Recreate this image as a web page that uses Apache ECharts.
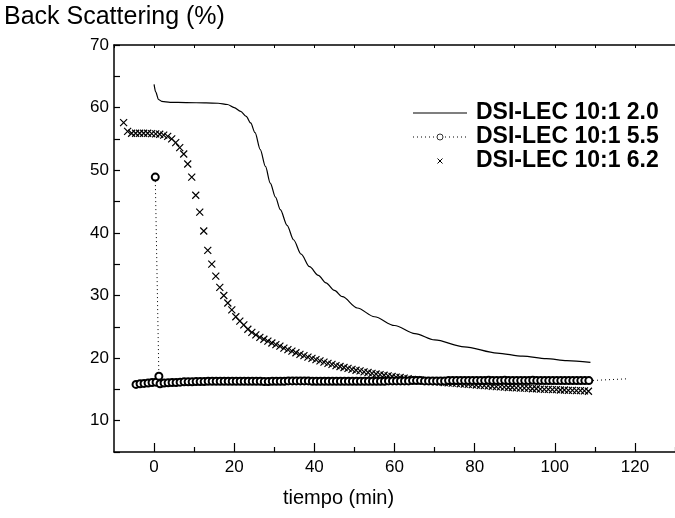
<!DOCTYPE html>
<html><head><meta charset="utf-8">
<script src="https://cdn.jsdelivr.net/npm/echarts@6/dist/echarts.min.js"></script>
<style>html,body{margin:0;padding:0;background:#fff}#c{width:675px;height:518px}</style>
</head><body><div id="c"></div>
<script>
// ---- data ----
const seriesNames = ['DSI-LEC 10:1 2.0', 'DSI-LEC 10:1 5.5', 'DSI-LEC 10:1 6.2'];
const xTickLabels = [0, 20, 40, 60, 80, 100, 120];
const xMinorTicks = [10, 30, 50, 70, 90, 110, 130];
const yTickLabels = [10, 20, 30, 40, 50, 60, 70];

// solid line (2.0)
const solidX = [0.0, 0.4, 1.1, 1.9, 4.0, 8.0, 13.0, 16.0, 18.3, 20.0, 21.6, 23.0, 24.1, 25.2, 26.5, 27.8, 29.0, 30.3, 31.5, 33.2, 34.8, 36.7, 38.8, 41.0, 42.9, 45.0, 47.0, 50.7, 55.0, 60.0, 65.1, 70.0, 77.4, 85.6, 92.0, 97.9, 103.0, 108.9];
const solidY = [63.7, 62.5, 61.3, 61.0, 60.85, 60.8, 60.75, 60.7, 60.5, 60.0, 59.4, 58.6, 57.55, 56.0, 53.3, 50.6, 47.95, 45.7, 43.7, 41.2, 38.9, 36.6, 34.6, 33.2, 32.0, 30.8, 29.8, 28.0, 26.6, 25.2, 23.9, 22.9, 21.8, 20.8, 20.3, 19.9, 19.6, 19.3];

// circles (5.5)
const circleEarlyX = [-4.5, -3.5, -2.5, -1.5, -0.5, 0.5];
const circleEarlyY = [15.8, 15.9, 15.95, 16.0, 16.1, 16.15];
const circleJumpX = [0.3, 1.2];
const circleJumpY = [48.9, 17.1];
const circleStartX = 1.5, circleStep = 1.0;
const circleY = [
  15.9, 16.0, 16.05, 16.1, 16.1, 16.15, 16.2, 16.2, 16.2, 16.25,
  16.25, 16.25, 16.3, 16.3, 16.3, 16.3, 16.3, 16.3, 16.3, 16.3,
  16.3, 16.3, 16.3, 16.3, 16.3, 16.3, 16.25, 16.25, 16.3, 16.3,
  16.3, 16.3, 16.35, 16.35, 16.35, 16.35, 16.35, 16.35, 16.3, 16.3,
  16.3, 16.3, 16.3, 16.3, 16.3, 16.3, 16.3, 16.3, 16.3, 16.3,
  16.3, 16.3, 16.3, 16.3, 16.3, 16.3, 16.3, 16.35, 16.35, 16.35,
  16.35, 16.35, 16.35, 16.4, 16.4, 16.4, 16.35, 16.35, 16.35, 16.35,
  16.35, 16.35, 16.4, 16.4, 16.4, 16.4, 16.4, 16.4, 16.4, 16.4,
  16.4, 16.4, 16.45, 16.4, 16.4, 16.4, 16.45, 16.4, 16.4, 16.4,
  16.4, 16.4, 16.4, 16.45, 16.4, 16.4, 16.4, 16.4, 16.4, 16.4,
  16.4, 16.4, 16.4, 16.4, 16.4, 16.4, 16.4, 16.4
];
const circleTailX = 118.5, circleTailY = 16.7;

// crosses (6.2)
const crossStartX = -7.6, crossStep = 1.0;
const crossY = [
  57.6, 56.2, 55.9, 55.9, 55.9, 55.9, 55.9, 55.85, 55.8, 55.75,
  55.6, 55.4, 55.0, 54.4, 53.6, 52.6, 51.0, 48.9, 46.0, 43.3,
  40.3, 37.2, 35.0, 33.1, 31.3, 30.0, 28.8, 27.7, 26.6, 25.9,
  25.3, 24.6, 24.1, 23.7, 23.3, 23.0, 22.7, 22.4, 22.15, 21.9,
  21.6, 21.35, 21.1, 20.85, 20.6, 20.4, 20.15, 19.95, 19.75, 19.55,
  19.35, 19.15, 19.0, 18.8, 18.65, 18.5, 18.35, 18.2, 18.05, 17.95,
  17.8, 17.7, 17.55, 17.45, 17.35, 17.25, 17.15, 17.05, 16.95, 16.9,
  16.8, 16.7, 16.6, 16.55, 16.5, 16.4, 16.35, 16.3, 16.2, 16.15,
  16.1, 16.05, 16.0, 15.95, 15.9, 15.85, 15.8, 15.75, 15.7, 15.65,
  15.6, 15.55, 15.5, 15.45, 15.4, 15.35, 15.3, 15.3, 15.25, 15.2,
  15.2, 15.15, 15.1, 15.1, 15.05, 15.0, 15.0, 14.95, 14.95, 14.9,
  14.9, 14.85, 14.85, 14.8, 14.8, 14.75, 14.7
];

// ---- build ----
const FONT = 'Arial, "Liberation Sans", sans-serif';
const solidData = solidX.map((x, i) => [x, solidY[i]]);
const circleData = [];
circleEarlyX.forEach((x, i) => circleData.push([x, circleEarlyY[i]]));
circleData.push([circleEarlyX[circleEarlyX.length - 1], '-']);
circleJumpX.forEach((x, i) => circleData.push([x, circleJumpY[i]]));
circleY.forEach((y, i) => circleData.push([circleStartX + i * circleStep, y]));
circleData.push({ value: [circleTailX, circleTailY], symbol: 'none' });
const crossData = crossY.map((y, i) => [crossStartX + i * crossStep, y]);

const chart = echarts.init(document.getElementById('c'), null, { renderer: 'canvas' });
const lx1 = 413, lx2 = 467, lxm = 440, ltx = 476;
const ly = [113, 137, 161];
const legendFont = 'bold 23px ' + FONT;
chart.setOption({
  animation: false,
  backgroundColor: '#fff',
  title: [
    { text: 'Back Scattering (%)', left: 4, top: 5, padding: 0,
      textStyle: { fontSize: 25, fontWeight: 'normal', fontFamily: FONT, color: '#000' } },
    { text: 'tiempo (min)', left: 283, top: 488, padding: 0,
      textStyle: { fontSize: 20, fontWeight: 'normal', fontFamily: FONT, color: '#000' } }
  ],
  grid: { left: 114, right: -7.5, top: 45, bottom: 66, containLabel: false },
  xAxis: [
    { type: 'value', position: 'bottom', min: -10, max: 130, interval: 10,
      axisLine: { show: true, onZero: false, lineStyle: { color: '#000', width: 1.5 } },
      axisTick: { show: true, inside: true, length: 9, customValues: xTickLabels, lineStyle: { color: '#000', width: 1.2 } },
      axisLabel: { show: true, customValues: xTickLabels, margin: 7, color: '#000', fontSize: 17, fontFamily: FONT },
      splitLine: { show: false } },
    { type: 'value', position: 'bottom', min: -10, max: 130, interval: 10,
      axisLine: { show: false, onZero: false },
      axisTick: { show: true, inside: true, length: 5, customValues: xMinorTicks, lineStyle: { color: '#000', width: 1.2 } },
      axisLabel: { show: false }, splitLine: { show: false } },
    { type: 'value', position: 'top', min: -10, max: 130, interval: 10,
      axisLine: { show: true, onZero: false, lineStyle: { color: '#000', width: 1.5 } },
      axisTick: { show: true, inside: true, length: 3, lineStyle: { color: '#000', width: 1 } },
      axisLabel: { show: false }, splitLine: { show: false } }
  ],
  yAxis: [
    { type: 'value', position: 'left', min: 5, max: 70, interval: 5,
      axisLine: { show: true, onZero: false, lineStyle: { color: '#000', width: 1.5 } },
      axisTick: { show: true, inside: true, length: 6, lineStyle: { color: '#000', width: 1.2 } },
      axisLabel: { show: true, customValues: yTickLabels, margin: 5, color: '#000', fontSize: 17, fontFamily: FONT },
      splitLine: { show: false } }
  ],
  series: [
    { name: seriesNames[0], type: 'line', xAxisIndex: 0, yAxisIndex: 0, data: solidData,
      symbol: 'none', smooth: 0.3, smoothMonotone: 'x', silent: true,
      lineStyle: { color: '#000', width: 1.2 } },
    { name: seriesNames[1], type: 'line', xAxisIndex: 0, yAxisIndex: 0, data: circleData,
      symbol: 'emptyCircle', symbolSize: 7, showAllSymbol: true, connectNulls: false, silent: true,
      itemStyle: { color: '#000', borderColor: '#000', borderWidth: 0.7 },
      lineStyle: { color: '#000', width: 1, type: [1, 3] } },
    { name: seriesNames[2], type: 'scatter', xAxisIndex: 0, yAxisIndex: 0, data: crossData,
      symbol: 'path://M0,0L10,10M10,0L0,10', symbolSize: 7, silent: true,
      itemStyle: { color: 'rgba(0,0,0,0)', borderColor: '#000', borderWidth: 1.2, opacity: 1 } }
  ],
  graphic: [
    { type: 'line', shape: { x1: lx1, y1: ly[0], x2: lx2, y2: ly[0] }, style: { stroke: '#000', lineWidth: 1.2 } },
    { type: 'text', x: ltx, y: ly[0], style: { text: seriesNames[0], font: legendFont, fill: '#000', verticalAlign: 'middle' } },
    { type: 'line', shape: { x1: lx1, y1: ly[1], x2: lx2, y2: ly[1] }, style: { stroke: '#000', lineWidth: 1, lineDash: [1, 3] } },
    { type: 'circle', shape: { cx: lxm, cy: ly[1], r: 3 }, style: { fill: '#fff', stroke: '#000', lineWidth: 0.8 } },
    { type: 'text', x: ltx, y: ly[1], style: { text: seriesNames[1], font: legendFont, fill: '#000', verticalAlign: 'middle' } },
    { type: 'line', shape: { x1: lxm - 2.5, y1: ly[2] - 2.5, x2: lxm + 2.5, y2: ly[2] + 2.5 }, style: { stroke: '#000', lineWidth: 1 } },
    { type: 'line', shape: { x1: lxm + 2.5, y1: ly[2] - 2.5, x2: lxm - 2.5, y2: ly[2] + 2.5 }, style: { stroke: '#000', lineWidth: 1 } },
    { type: 'text', x: ltx, y: ly[2], style: { text: seriesNames[2], font: legendFont, fill: '#000', verticalAlign: 'middle' } }
  ]
});
</script>
</body></html>
